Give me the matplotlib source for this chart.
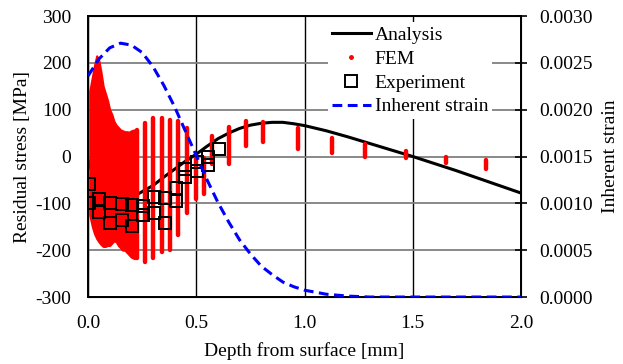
import numpy as np
import matplotlib
matplotlib.use("Agg")
import matplotlib.pyplot as plt
from matplotlib.lines import Line2D

plt.rcParams['font.family'] = ['Liberation Serif', 'DejaVu Serif']
plt.rcParams['font.size'] = 14
plt.rcParams['axes.unicode_minus'] = False

# Analysis (black line), residual stress [MPa]
ana_x = [0.0, 0.02, 0.05, 0.1, 0.15, 0.2, 0.25, 0.3, 0.35, 0.4, 0.45, 0.5, 0.55, 0.6, 0.65,
         0.7, 0.75, 0.8, 0.85, 0.9, 0.95, 1.0, 1.1, 1.2, 1.3, 1.4, 1.5, 1.6, 1.7, 1.8, 1.9, 2.0]
ana_y = [-8, -35, -70, -95, -97, -88, -75, -62, -44, -27, -10, 5, 22, 38, 50,
         60, 67, 71, 73, 73, 70, 66, 55, 42, 28, 14, 0, -15, -30, -46, -62, -78]

# FEM results near the surface: spread of values (dense cloud)
cloud_x = [0.008, 0.02, 0.03, 0.04, 0.05, 0.06, 0.07, 0.08, 0.09, 0.10, 0.11, 0.12, 0.13, 0.14,
           0.15, 0.16, 0.17, 0.18, 0.19, 0.20, 0.215]
cloud_top = [140, 170, 195, 215, 205, 180, 150, 135, 120, 100, 90, 75, 67, 62,
             57, 55, 53, 53, 52, 55, 57]
cloud_bottom = [-125, -150, -165, -175, -182, -188, -192, -192, -190, -190, -185, -180, -182, -190,
                -195, -200, -200, -205, -210, -215, -218]

# FEM results deeper: spread of values at each node depth
fem_x = [0.225, 0.263, 0.302, 0.340, 0.379, 0.417, 0.459, 0.497, 0.536, 0.574, 0.653,
         0.73, 0.807, 0.968, 1.125, 1.28, 1.467, 1.654, 1.838]
fem_top = [57, 72, 82, 82, 79, 76, 60, 2, -3, 44, 62,
           76, 74, 60, 39, 27, 12, -2, -7]
fem_bottom = [-217, -225, -217, -203, -200, -168, -121, -90, -80, -15, -15,
              22, 30, 17, 8, 0, -4, -14, -27]

# Experiment (open squares)
exp_x = [0.005, 0.005, 0.052, 0.052, 0.10, 0.10, 0.155, 0.155, 0.205, 0.205, 0.255, 0.255,
         0.305, 0.305, 0.355, 0.355, 0.405, 0.405, 0.45, 0.45, 0.505, 0.505, 0.555, 0.555, 0.605]
exp_y = [-59, -100, -91, -118, -99, -141, -101, -136, -104, -148, -106, -125,
         -86, -121, -89, -143, -68, -94, -27, -44, -11, -30, 0, -18, 15]

# Inherent strain (right axis)
inh_x = [0.0, 0.05, 0.1, 0.15, 0.2, 0.25, 0.3, 0.35, 0.4, 0.45, 0.5, 0.55, 0.6, 0.65, 0.7,
         0.75, 0.8, 0.85, 0.9, 0.95, 1.0, 1.1, 1.2, 1.3, 1.5, 2.0]
inh_y = [0.00236, 0.00254, 0.00266, 0.00271, 0.00269, 0.00261, 0.00246, 0.00226, 0.00203,
         0.00177, 0.00151, 0.00125, 0.00101, 0.00080, 0.00061, 0.00046, 0.00033, 0.00024,
         0.00016, 0.00011, 0.000073, 0.00003, 0.00001, 0.0, 0.0, 0.0]

fig = plt.figure(figsize=(6.23, 3.64), dpi=100)
ax = fig.add_axes([0.1413, 0.184, 0.695, 0.772])

ax.plot(ana_x, ana_y, color='black', lw=2.2, zorder=2)
ax.fill_between(cloud_x, cloud_bottom, cloud_top, color='red', lw=1.5, edgecolor='red', zorder=3)
ax.vlines(fem_x, fem_bottom, fem_top, color='red', lw=3.2, capstyle='round', zorder=3)
ax.plot(exp_x, exp_y, ls='none', marker='s', ms=8, mfc='none', mec='black', mew=1.4, zorder=4)

ax.set_xlim(0, 2.0)
ax.set_ylim(-300, 300)
ax.set_xticks([0.0, 0.5, 1.0, 1.5, 2.0])
ax.set_xticklabels(['0.0', '0.5', '1.0', '1.5', '2.0'])
ax.set_yticks(range(-300, 301, 100))
ax.tick_params(axis='y', length=0, pad=12)
ax.tick_params(axis='x', length=0, pad=13)
ax.grid(axis='y', color='#808080', lw=1.3)
ax.grid(axis='x', color='black', lw=1.0)
ax.set_axisbelow(True)
for s in ax.spines.values():
    s.set_linewidth(1.4)
ax.set_xlabel('Depth from surface [mm]', labelpad=7)
ax.set_ylabel('Residual stress [MPa]', labelpad=3)

ax2 = ax.twinx()
ax2.plot(inh_x, inh_y, color='blue', lw=2.2, ls=(0, (3.2, 1.8)), zorder=5)
ax2.set_ylim(0, 0.003)
ax2.set_yticks([0.0, 0.0005, 0.001, 0.0015, 0.002, 0.0025, 0.003])
ax2.set_yticklabels(['0.0000', '0.0005', '0.0010', '0.0015', '0.0020', '0.0025', '0.0030'])
ax2.tick_params(axis='y', direction='inout', length=8, width=1.2, pad=9)
ax2.set_ylabel('Inherent strain', labelpad=7)

handles = [
    Line2D([], [], color='black', lw=2.2),
    Line2D([], [], ls='none', marker='o', ms=2.5, color='red'),
    Line2D([], [], ls='none', marker='s', ms=8, mfc='none', mec='black', mew=1.4),
    Line2D([], [], color='blue', lw=2.2, ls=(0, (3.2, 1.8))),
]
labels = ['Analysis', 'FEM', 'Experiment', 'Inherent strain']
leg = ax2.legend(handles, labels, loc='upper left', bbox_to_anchor=(0.532, 1.012),
                 frameon=True, fancybox=False, framealpha=1, edgecolor='none',
                 borderpad=0.2, handletextpad=0.2, labelspacing=0.32, handlelength=2.0)
leg.set_zorder(2)

fig.savefig('out.png', dpi=100)
